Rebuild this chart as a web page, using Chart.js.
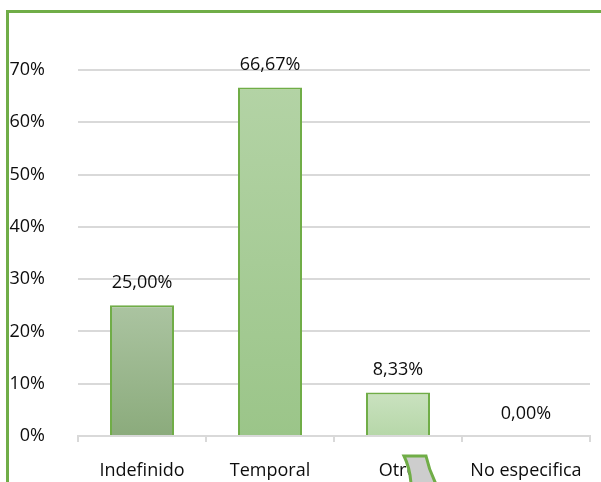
<!DOCTYPE html>
<html>
<head>
<meta charset="utf-8">
<script src="https://cdn.jsdelivr.net/npm/chart.js@4.4.1/dist/chart.umd.min.js"></script>
<style>
html,body{margin:0;padding:0;background:#fff;}
#wrap{width:601px;height:482px;position:relative;}
</style>
</head>
<body>
<div id="wrap"><canvas id="c" width="601" height="482"></canvas></div>
<script>
const categories = ["Indefinido", "Temporal", "Otro", "No especifica"];
const values = [0.25, 0.6667, 0.0833, 0.0];
const valueLabels = ["25,00%", "66,67%", "8,33%", "0,00%"];
const yTicks = [0, 0.1, 0.2, 0.3, 0.4, 0.5, 0.6, 0.7];
const gradTop = ["#abc4a1", "#b3d3a5", "#cae2c0"];
const gradBottom = ["#8bab7c", "#9bc589", "#b6d7a8"];

const FONT = "'Open Sans', sans-serif";
const TXT = "#0d0d0d";

function barFill(ctx) {
  const chart = ctx.chart;
  const i = ctx.dataIndex;
  const ys = chart.scales.y;
  if (!ys) return gradTop[i % 3];
  const top = ys.getPixelForValue(values[i]);
  const bot = ys.getPixelForValue(0);
  if (!isFinite(top) || top === bot) return gradTop[i % 3];
  const g = chart.ctx.createLinearGradient(0, top, 0, bot);
  g.addColorStop(0, gradTop[i % 3]);
  g.addColorStop(1, gradBottom[i % 3]);
  return g;
}

const labelPlugin = {
  id: 'valueLabels',
  afterDatasetsDraw(chart) {
    const ctx = chart.ctx;
    const meta = chart.getDatasetMeta(0);
    ctx.save();
    ctx.font = "18px " + FONT;
    ctx.fillStyle = TXT;
    ctx.textAlign = 'center';
    ctx.textBaseline = 'alphabetic';
    meta.data.forEach((bar, i) => {
      ctx.fillText(valueLabels[i], bar.x, bar.y - 17);
    });
    ctx.restore();
  }
};

const framePlugin = {
  id: 'frame',
  afterDraw(chart) {
    const ctx = chart.ctx;
    ctx.save();
    ctx.strokeStyle = "#70ad47";
    ctx.lineWidth = 3;
    ctx.beginPath();
    ctx.moveTo(7.5, chart.height);
    ctx.lineTo(7.5, 11.5);
    ctx.lineTo(chart.width, 11.5);
    ctx.stroke();
    // gray curled callout shape near the "Otro" label
    const xs = chart.scales.x;
    const cx = xs.getPixelForValue(2);
    const H = chart.height;
    ctx.beginPath();
    ctx.moveTo(cx + 6, H - 26);
    ctx.lineTo(cx + 28, H - 26);
    ctx.quadraticCurveTo(cx + 31, H - 12, cx + 38, H + 2);
    ctx.lineTo(cx + 13, H + 2);
    ctx.quadraticCurveTo(cx + 12, H - 14, cx + 6, H - 26);
    ctx.closePath();
    ctx.fillStyle = "#cdcdcd";
    ctx.fill();
    ctx.lineWidth = 3;
    ctx.strokeStyle = "#70ad47";
    ctx.stroke();
    ctx.restore();
  }
};

new Chart(document.getElementById('c'), {
  type: 'bar',
  data: {
    labels: categories,
    datasets: [{
      data: values,
      backgroundColor: barFill,
      borderColor: "#70ad47",
      borderWidth: 2,
      barPercentage: 0.5,
      categoryPercentage: 1.0
    }]
  },
  options: {
    responsive: false,
    animation: false,
    events: [],
    layout: { padding: { left: 0, right: 11, top: 70, bottom: 0 } },
    plugins: { legend: { display: false }, tooltip: { enabled: false } },
    scales: {
      x: {
        grid: { offset: true, drawOnChartArea: false, drawTicks: true, tickLength: 6, color: "#d9d9d9", lineWidth: 2 },
        border: { display: true, color: "#d9d9d9", width: 2 },
        ticks: { color: TXT, font: { family: FONT, size: 18 }, padding: 18, maxRotation: 0, autoSkip: false },
        afterFit(s) { s.height = 46; }
      },
      y: {
        min: 0, max: 0.7,
        afterBuildTicks(s) { s.ticks = yTicks.map(v => ({ value: v })); },
        grid: { color: "#d9d9d9", drawTicks: false, lineWidth: 2 },
        border: { display: false },
        ticks: {
          color: TXT, font: { family: FONT, size: 18 }, padding: 33,
          callback: v => Math.round(v * 100) + "%"
        },
        afterFit(s) { s.width = 78; }
      }
    }
  },
  plugins: [labelPlugin, framePlugin]
});
</script>
</body>
</html>
